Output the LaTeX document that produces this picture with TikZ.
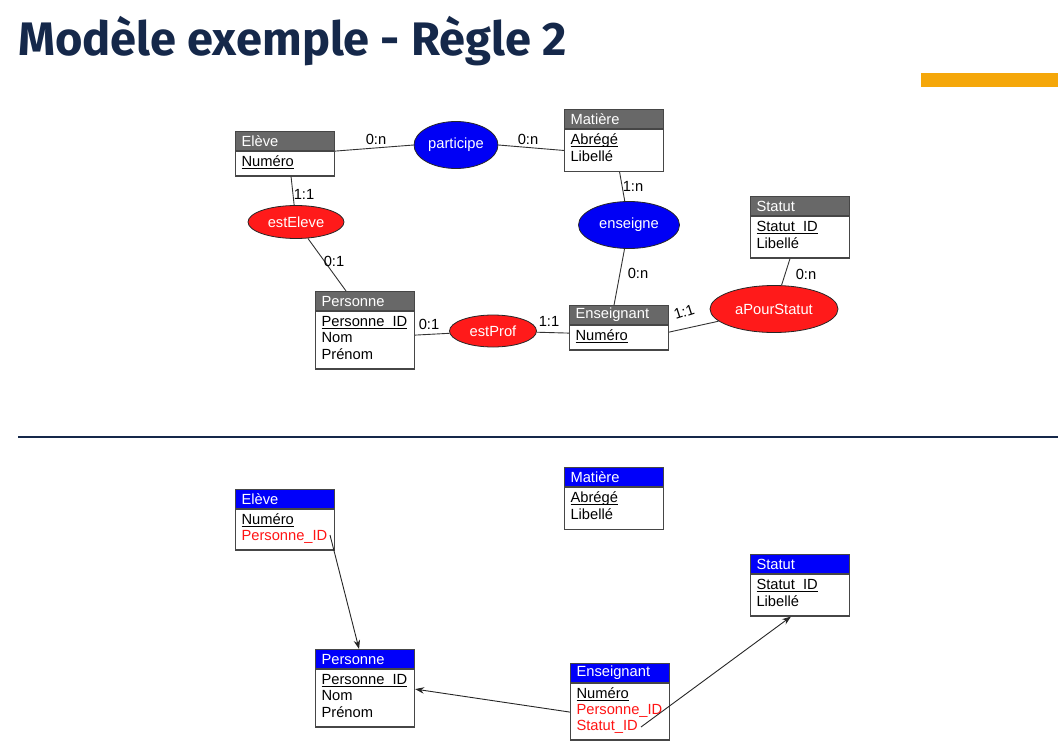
\documentclass[tikz,border=0pt]{standalone}
\usepackage{fontspec}
\setmainfont{Liberation Sans}
\newfontfamily\titlefont{Fira Sans}
\usetikzlibrary{shapes.geometric,calc,arrows.meta}

\definecolor{navy}{RGB}{21,40,74}
\definecolor{accent}{RGB}{245,167,10}
\definecolor{hdrgray}{RGB}{104,104,104}
\definecolor{hdrblue}{RGB}{0,0,250}
\definecolor{relred}{RGB}{255,26,26}
\definecolor{relblue}{RGB}{0,0,245}
\definecolor{fkred}{RGB}{255,20,20}
\definecolor{boxline}{RGB}{70,70,70}

\newcommand\efont{\fontsize{14.7}{16}\selectfont}
% one attribute row: fixed height and depth
\newcommand\rs{\rule[-5.5pt]{0pt}{16pt}}
% key attribute: underlined with a rule of its own
\newsavebox\keybox
\newcommand\keyattr[1]{\sbox\keybox{#1}\rlap{\rule[-2.4pt]{\wd\keybox}{0.9pt}}\usebox\keybox}
\newcommand\fk[1]{\textcolor{fkred}{#1}}
% entity: name, x, y (top left), header colour, title, attribute lines
\newcommand\erEntity[6]{%
  \node[ehead, fill=#4] (#1) at (#2,#3) {#5};
  \node[ebody] (#1-b) at (#1.south west) {#6};
}

\begin{document}
\begin{tikzpicture}[x=1pt,y=-1pt,
  ehead/.style={draw=boxline, line width=1.1pt, anchor=north west,
    minimum width=99pt, minimum height=19pt, text width=87pt,
    inner xsep=6pt, inner ysep=0pt, align=left, text=white, font=\efont},
  ebody/.style={draw=boxline, line width=1.1pt, anchor=north west, fill=white,
    minimum width=99pt, text width=87pt, inner xsep=6pt, inner ysep=4pt,
    align=left, font=\efont},
  rel/.style={ellipse, draw=black!85, line width=0.8pt, text=white,
    font=\efont, inner sep=0pt},
  card/.style={font=\efont, inner sep=0pt},
  conn/.style={draw=black!80, line width=0.9pt},
  fkarrow/.style={draw=black!85, line width=0.9pt,
    -{Stealth[length=9pt,width=6.5pt]}},
]
\useasboundingbox (0,0) rectangle (1058,755);

% heading, accent bar and separator
\node[anchor=base west, inner sep=0pt, text=navy,
  font=\titlefont\bfseries\fontsize{47}{51}\selectfont] (title) at (18,55)
  {Modèle exemple - Règle 2};
\fill[accent] (921,73) rectangle (1058,87);
\draw[navy, line width=1.4pt] (18,437) -- (1058,437);

% ---------- conceptual model ----------
\erEntity{eleveT}{235}{131}{hdrgray}{Elève}{\rs\keyattr{Numéro}}
\erEntity{matT}{564}{109}{hdrgray}{Matière}{\rs\keyattr{Abrégé}\\\rs Libellé}
\erEntity{statT}{750}{196}{hdrgray}{Statut}{\rs\keyattr{Statut\_ID}\\\rs Libellé}
\erEntity{perT}{315}{291}{hdrgray}{Personne}{\rs\keyattr{Personne\_ID}\\\rs Nom\\\rs Prénom}
\erEntity{ensT}{569}{305}{hdrgray}{Enseignant}{\rs\keyattr{Numéro}}

\node[rel, fill=relblue, minimum width=84pt, minimum height=47pt] (participe) at (456,145) {participe};
\node[rel, fill=relred, minimum width=96pt, minimum height=33pt] (estEleve) at (296,222) {estEleve};
\node[rel, fill=relblue, minimum width=101pt, minimum height=47pt] (enseigne) at (629,225) {enseigne};
\node[rel, fill=relred, minimum width=87pt, minimum height=32pt] (estProf) at (493,331) {estProf};
\node[rel, fill=relred, minimum width=128pt, minimum height=47pt] (aPourStatut) at (774,309) {aPourStatut};

\draw[conn] (eleveT.south east) -- (participe.west);
\draw[conn] (participe.east) -- (matT-b.west);
\draw[conn] ($(eleveT-b.south west)!0.56!(eleveT-b.south east)$) -- (estEleve);
\draw[conn] (estEleve) -- ($(perT.north west)!0.31!(perT.north east)$);
\draw[conn] ($(matT-b.south west)!0.555!(matT-b.south east)$) -- (enseigne);
\draw[conn] (enseigne) -- ($(ensT.north west)!0.45!(ensT.north east)$);
\draw[conn] ($(statT-b.south west)!0.4!(statT-b.south east)$) -- (aPourStatut);
\draw[conn] ($(perT-b.north east)+(0,24)$) -- (estProf);
\draw[conn] (estProf) -- ($(ensT-b.north west)+(0,8)$);
\draw[conn] ($(ensT-b.north east)+(0,7)$) -- (aPourStatut);

\node[card] (c1) at (376,139) {0:n};
\node[card] (c2) at (528,139) {0:n};
\node[card] (c3) at (304,194) {1:1};
\node[card] (c4) at (334,261) {0:1};
\node[card] (c5) at (633,186) {1:n};
\node[card] (c6) at (638,273) {0:n};
\node[card] (c7) at (806,274) {0:n};
\node[card] (c8) at (429,324) {0:1};
\node[card] (c9) at (549,321) {1:1};
\node[card, rotate=18] (c10) at (684,312) {1:1};

% ---------- relational model ----------
\erEntity{eleveB}{235}{489}{hdrblue}{Elève}{\rs\keyattr{Numéro}\\\rs\fk{Personne\_ID}}
\erEntity{matB}{564}{467}{hdrblue}{Matière}{\rs\keyattr{Abrégé}\\\rs Libellé}
\erEntity{statB}{750}{554}{hdrblue}{Statut}{\rs\keyattr{Statut\_ID}\\\rs Libellé}
\erEntity{perB}{315}{649}{hdrblue}{Personne}{\rs\keyattr{Personne\_ID}\\\rs Nom\\\rs Prénom}
\erEntity{ensB}{570}{663}{hdrblue}{Enseignant}{\rs\keyattr{Numéro}\\\rs\fk{Personne\_ID}\\\rs\fk{Statut\_ID}}

\coordinate (fkEleve) at (330,535);
\coordinate (fkEnsPer) at ($(ensB-b.north west)+(0,29)$);
\coordinate (fkEnsStat) at (641,727);

\draw[fkarrow] (fkEleve) -- ($(perB.north west)!0.44!(perB.north east)$);
\draw[fkarrow] (fkEnsPer) -- ($(perB-b.north east)+(0,20)$);
\draw[fkarrow] (fkEnsStat) -- ($(statB-b.south west)!0.41!(statB-b.south east)$);
\end{tikzpicture}
\end{document}
